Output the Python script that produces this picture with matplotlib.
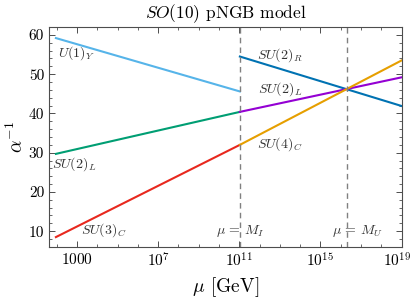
import numpy as np
import matplotlib
matplotlib.use('Agg')
import matplotlib.pyplot as plt
import matplotlib.transforms as mtransforms
from matplotlib.ticker import FixedLocator, FixedFormatter, MultipleLocator

plt.rc('font', family='serif', serif=['cmr10'])
plt.rc('mathtext', fontset='cm')
plt.rc('axes', unicode_minus=False)

# scales (GeV)
MZ = 91.19
MI = 10**11.03
MU = 10**16.3
MEND = 1e19

# inverse couplings at the segment endpoints
mu_low = [MZ, MI]
u1_Y = [59.2, 45.6]
su2_L_low = [29.7, 40.4]
su3_C = [8.5, 32.0]

mu_high = [MI, MEND]
su2_R = [54.5, 41.9]
su2_L_high = [40.4, 49.2]
su4_C = [32.0, 53.5]

xticks = [1e3, 1e7, 1e11, 1e15, 1e19]
xticklabels = ['$1000$', '$10^{7}$', '$10^{11}$', '$10^{15}$', '$10^{19}$']

fig = plt.figure(figsize=(4.14, 3.0), dpi=100)
ax = fig.add_axes([0.1184, 0.177, 0.853, 0.734])

lw = 1.5
ax.plot(mu_low, u1_Y, color='#56B4E9', lw=lw)
ax.plot(mu_low, su2_L_low, color='#009E73', lw=lw)
ax.plot(mu_low, su3_C, color='#E8281E', lw=lw)
ax.plot(mu_high, su2_R, color='#0072B2', lw=lw)
ax.plot(mu_high, su2_L_high, color='#9400D3', lw=lw)
ax.plot(mu_high, su4_C, color='#E69F00', lw=lw)

ax.axvline(MI, color='0.5', ls='--', lw=1.0, dashes=(4, 3))
ax.axvline(MU, color='0.5', ls='--', lw=1.0, dashes=(4, 3))

tc = '0.2'
fs = 10
ax.text(10**3.0, 55.4, '$U(1)_Y$', ha='center', va='center', fontsize=fs, color=tc)
ax.text(10**2.87, 27.0, '$SU(2)_L$', ha='center', va='center', fontsize=fs, color=tc)
ax.text(10**4.3, 10.2, '$SU(3)_C$', ha='center', va='center', fontsize=fs, color=tc)
ax.text(10**13.0, 54.9, '$SU(2)_R$', ha='center', va='center', fontsize=fs, color=tc)
ax.text(10**13.0, 46.2, '$SU(2)_L$', ha='center', va='center', fontsize=fs, color=tc)
ax.text(10**13.0, 32.3, '$SU(4)_C$', ha='center', va='center', fontsize=fs, color=tc)
ax.text(10**9.85, 10.0, r'$\mu\,=\,M_I$', ha='left', va='center', fontsize=fs, color=tc)
ax.text(10**15.55, 10.0, r'$\mu\,=\,M_U$', ha='left', va='center', fontsize=fs, color=tc)

ax.set_xscale('log')
ax.set_xlim(10**1.62, 10**19.03)
ax.set_ylim(6.0, 62.1)

ax.xaxis.set_major_locator(FixedLocator(xticks))
ax.xaxis.set_major_formatter(FixedFormatter(xticklabels))
ax.xaxis.set_minor_locator(FixedLocator([10.0**k for k in range(1, 20)]))
ax.xaxis.set_minor_formatter(FixedFormatter([]))
ax.yaxis.set_major_locator(MultipleLocator(10))
ax.yaxis.set_minor_locator(MultipleLocator(2))

ax.tick_params(which='both', direction='in', top=True, right=True, labelsize=11, color='0.3')
ax.tick_params(which='major', length=4.5, width=0.7)
ax.tick_params(which='minor', length=2.5, width=0.6)
for s in ax.spines.values():
    s.set_linewidth(0.8)
    s.set_color('0.3')

# nudge the last tick label so it stays inside the canvas
last = ax.get_xticklabels()[-1]
last.set_transform(last.get_transform() +
                   mtransforms.ScaledTranslation(-4 / 100, 0, fig.dpi_scale_trans))

ax.set_xlabel(r'$\mu$ [GeV]', fontsize=14, labelpad=4)
ax.set_ylabel(r'$\alpha^{-1}$', fontsize=14, labelpad=2)
ax.set_title(r'$SO(10)$ pNGB model', fontsize=12.5, pad=6)

plt.savefig('out.png', dpi=100)
